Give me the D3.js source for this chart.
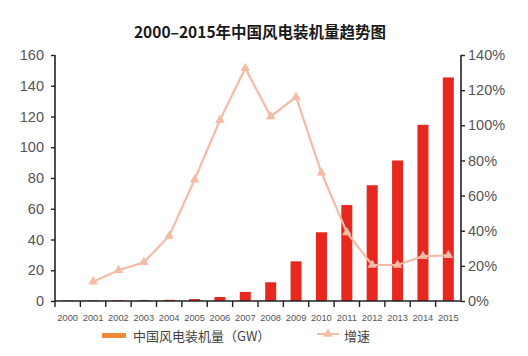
<!DOCTYPE html>
<html><head><meta charset="utf-8">
<script src="https://cdn.jsdelivr.net/npm/d3@7"></script>
<style>body{margin:0;background:#fff}svg{display:block}</style>
</head><body><svg id="c" width="528" height="356"></svg>
<script>
const years = ["2000","2001","2002","2003","2004","2005","2006","2007","2008","2009","2010","2011","2012","2013","2014","2015"];
const capacity = [0.34,0.4,0.47,0.57,0.76,1.26,2.6,5.9,12.2,25.8,44.7,62.4,75.3,91.4,114.6,145.4];
const growth = [null,0.11,0.175,0.22,0.37,0.69,1.03,1.325,1.05,1.16,0.73,0.39,0.205,0.205,0.255,0.26];
const leftTicks = [0,20,40,60,80,100,120,140,160];
const rightTicks = [0,0.2,0.4,0.6,0.8,1.0,1.2,1.4];
const title = "2000–2015年中国风电装机量趋势图";
const legendBar = "中国风电装机量（GW）";
const legendLine = "增速";

const svg = d3.select("#c");
const L = 55, R = 461, T = 55, B = 301;
const x = d3.scaleBand().domain(years).range([L, R]).paddingInner(0.57).paddingOuter(0.285);
const xb = d3.scaleBand().domain(years).range([L, R]);
const yL = d3.scaleLinear().domain([0,160]).range([B, T]);
const yR = d3.scaleLinear().domain([0,1.4]).range([B, T]);
const font = "'Liberation Sans', Arial, 'Noto Sans CJK SC', sans-serif";
const cjk = "'Noto Sans CJK SC', sans-serif";

svg.append("text").attr("x", 260).attr("y", 38).attr("text-anchor","middle")
  .attr("font-family", cjk).attr("font-weight","bold").attr("font-size",15.5).attr("fill","#1a1a1a").text(title);

// bars
svg.append("g").selectAll("rect").data(years).join("rect")
  .attr("x", d => xb(d) + xb.bandwidth()/2 - 5.5).attr("width", 11)
  .attr("y", (d,i) => yL(capacity[i])).attr("height", (d,i) => B - yL(capacity[i]))
  .attr("fill", "#e8271f");

// line
const pts = years.map((d,i) => ({x: xb(d)+xb.bandwidth()/2, v: growth[i]})).filter(p => p.v !== null);
const lineColor = "#f5bba5";
svg.append("path").datum(pts).attr("fill","none").attr("stroke", lineColor).attr("stroke-width",2.2)
  .attr("d", d3.line().x(p=>p.x).y(p=>yR(p.v)));
const tri = d3.symbol().type(d3.symbolTriangle).size(40);
svg.append("g").selectAll("path").data(pts).join("path")
  .attr("transform", p => `translate(${p.x},${yR(p.v)})`).attr("d", tri).attr("fill", lineColor);

// axes
const axisColor = "#222";
const gL = svg.append("g").attr("transform", `translate(${L},0)`)
  .call(d3.axisLeft(yL).tickValues(leftTicks).tickSize(4).tickPadding(7));
const gR = svg.append("g").attr("transform", `translate(${R},0)`)
  .call(d3.axisRight(yR).tickValues(rightTicks).tickSize(4).tickPadding(3).tickFormat(d3.format(".0%")));
const xTickScale = d3.scaleLinear().domain([0,16]).range([L,R]);
const gX = svg.append("g").attr("transform", `translate(0,${B})`);
gX.append("line").attr("x1",L).attr("x2",R).attr("y1",0).attr("y2",0).attr("stroke",axisColor).attr("stroke-width",1.6);
gX.selectAll("line.t").data(d3.range(16)).join("line").attr("class","t")
  .attr("x1", i => xTickScale(i)).attr("x2", i => xTickScale(i)).attr("y1",0).attr("y2",6)
  .attr("stroke",axisColor).attr("stroke-width",1.4);
gX.selectAll("text").data(years).join("text")
  .attr("x", d => xb(d)+xb.bandwidth()/2).attr("y", 20).attr("text-anchor","middle")
  .attr("font-family", font).attr("font-size", 9.3).attr("fill","#555").text(d => d);

[gL, gR].forEach(g => {
  g.select(".domain").attr("stroke",axisColor).attr("stroke-width",1.6).attr("d", g===gL ? `M0,${T}V${B}` : `M0,${T}V${B}`);
  g.selectAll(".tick line").attr("stroke",axisColor).attr("stroke-width",1.4);
  g.selectAll(".tick text").attr("font-family",font).attr("font-size",14.5).attr("fill","#555");
});

// legend
svg.append("rect").attr("x",102).attr("y",333).attr("width",24).attr("height",5).attr("fill","#f08a3a");
svg.append("text").attr("x",133).attr("y",340.5).attr("font-family",cjk).attr("font-size",13).attr("fill","#444").text(legendBar);
svg.append("line").attr("x1",317).attr("x2",339).attr("y1",334).attr("y2",334).attr("stroke",lineColor).attr("stroke-width",2);
svg.append("path").attr("transform","translate(328,334)").attr("d",tri).attr("fill",lineColor);
svg.append("text").attr("x",344).attr("y",340.5).attr("font-family",cjk).attr("font-size",13).attr("fill","#444").text(legendLine);
</script></body></html>
